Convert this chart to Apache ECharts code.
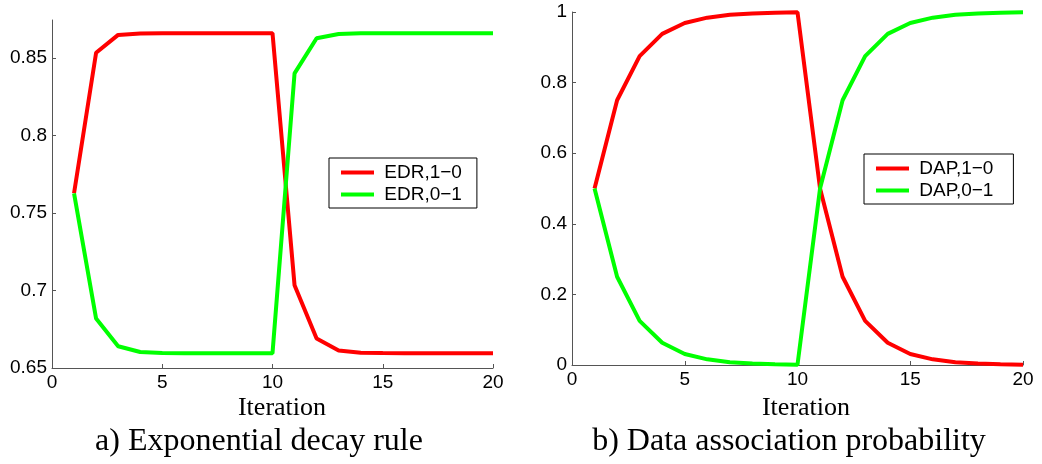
<!DOCTYPE html>
<html>
<head>
<meta charset="utf-8">
<script src="https://cdn.jsdelivr.net/npm/echarts@6/dist/echarts.min.js"></script>
<style>
  html, body { margin: 0; padding: 0; background: #fff; }
  #chart { width: 1042px; height: 464px; }
</style>
</head>
<body>
<div id="chart"></div>
<script>
// ---- data ----
var iterations = [1, 2, 3, 4, 5, 6, 7, 8, 9, 10, 11, 12, 13, 14, 15, 16, 17, 18, 19, 20];
var edr10 = [0.7627, 0.8534, 0.8649, 0.8658, 0.866, 0.866, 0.866, 0.866, 0.866, 0.866,
             0.7034, 0.669, 0.6613, 0.6599, 0.6596, 0.6595, 0.6595, 0.6595, 0.6595, 0.6595];
var edr01 = [0.7627, 0.6819, 0.664, 0.6603, 0.6597, 0.6595, 0.6595, 0.6595, 0.6595, 0.6595,
             0.8401, 0.8627, 0.8655, 0.8659, 0.866, 0.866, 0.866, 0.866, 0.866, 0.866];
var dap10 = [0.5, 0.75, 0.875, 0.938, 0.969, 0.984, 0.992, 0.996, 0.998, 0.999,
             0.5, 0.25, 0.125, 0.063, 0.031, 0.016, 0.008, 0.004, 0.002, 0.001];
var dap01 = [0.5, 0.25, 0.125, 0.063, 0.031, 0.016, 0.008, 0.004, 0.002, 0.001,
             0.5, 0.75, 0.875, 0.938, 0.969, 0.984, 0.992, 0.996, 0.998, 0.999];
var xTicks = [0, 5, 10, 15, 20];
var yTicksA = [0.65, 0.7, 0.75, 0.8, 0.85];
var yTicksB = [0, 0.2, 0.4, 0.6, 0.8, 1];
var namesA = ['EDR,1\u22120', 'EDR,0\u22121'];
var namesB = ['DAP,1\u22120', 'DAP,0\u22121'];
var xLabel = 'Iteration';
var captionA = 'a) Exponential decay rule';
var captionB = 'b) Data association probability';

function pairs(xs, ys) { return xs.map(function (x, i) { return [x, ys[i]]; }); }

var sans = 'Liberation Sans, Arial, Helvetica, sans-serif';
var serif = 'Liberation Serif, Times New Roman, serif';
var axisColor = '#555';

function xAxis(gi) {
  return {
    type: 'value', gridIndex: gi, min: 0, max: 20, interval: 5,
    axisLine: { show: true, onZero: false, lineStyle: { color: axisColor, width: 1 } },
    axisTick: { show: true, inside: true, length: 4, lineStyle: { color: axisColor }, customValues: xTicks },
    axisLabel: { color: '#000', fontFamily: sans, fontSize: 19, margin: 5, customValues: xTicks,
                 formatter: function (v) { return String(v); } },
    splitLine: { show: false }
  };
}
function yAxis(gi, min, max, ticks) {
  return {
    type: 'value', gridIndex: gi, min: min, max: max,
    axisLine: { show: true, onZero: false, lineStyle: { color: axisColor, width: 1 } },
    axisTick: { show: true, inside: true, length: 4, lineStyle: { color: axisColor }, customValues: ticks },
    axisLabel: { color: '#000', fontFamily: sans, fontSize: 19, margin: 5, customValues: ticks,
                 formatter: function (v) { return String(Math.round(v * 100) / 100); } },
    splitLine: { show: false }
  };
}
function line(name, gi, ys, color) {
  return {
    type: 'line', name: name, xAxisIndex: gi, yAxisIndex: gi,
    data: pairs(iterations, ys), symbol: 'none', showSymbol: false,
    lineStyle: { color: color, width: 4 }, itemStyle: { color: color },
    animation: false
  };
}
function legend(names, left, top, padRight) {
  return {
    data: names, left: left, top: top, orient: 'vertical',
    icon: 'rect', itemWidth: 33, itemHeight: 4, itemGap: 3,
    padding: [5, padRight, 4, 12],
    borderColor: '#000', borderWidth: 1, backgroundColor: '#fff',
    textStyle: { color: '#000', fontFamily: sans, fontSize: 19 },
    formatter: function (n) { return ' ' + n; },
    selectedMode: false
  };
}
function text(str, x, y, size) {
  return { type: 'text', x: x, y: y,
    style: { text: str, fontFamily: serif, fontSize: size, fill: '#000',
             textAlign: 'center', textVerticalAlign: 'middle' } };
}

var chart = echarts.init(document.getElementById('chart'), null, { renderer: 'canvas' });
chart.setOption({
  animation: false,
  backgroundColor: '#fff',
  grid: [
    { left: 52, top: 20, width: 441, height: 348 },
    { left: 572, top: 12, width: 451, height: 353 }
  ],
  xAxis: [xAxis(0), xAxis(1)],
  yAxis: [yAxis(0, 0.65, 0.8745, yTicksA), yAxis(1, 0, 1, yTicksB)],
  legend: [legend(namesA, 329, 158, 15), legend(namesB, 864, 154, 20)],
  series: [
    line(namesA[0], 0, edr10, '#ff0000'),
    line(namesA[1], 0, edr01, '#00ff00'),
    line(namesB[0], 1, dap10, '#ff0000'),
    line(namesB[1], 1, dap01, '#00ff00')
  ],
  graphic: [
    text(xLabel, 282, 408, 26),
    text(xLabel, 806, 408, 26),
    text(captionA, 259, 442, 32),
    text(captionB, 789, 442, 32)
  ]
});
</script>
</body>
</html>
